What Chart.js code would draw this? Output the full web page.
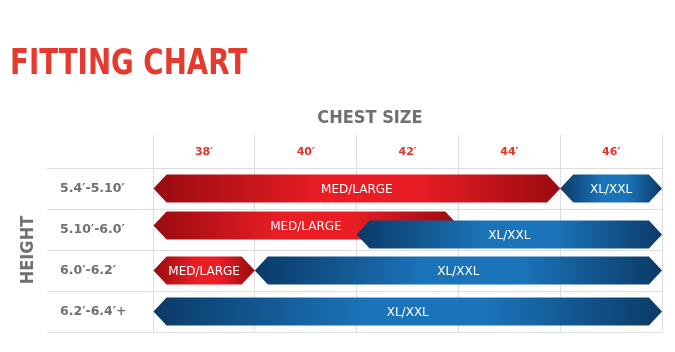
<!DOCTYPE html>
<html>
<head>
<meta charset="utf-8">
<script src="https://cdn.jsdelivr.net/npm/chart.js@4/dist/chart.umd.min.js"></script>
<style>
  html, body { margin: 0; padding: 0; background: #fff; }
</style>
</head>
<body>
<canvas id="fitChart" width="675" height="352"></canvas>
<script>
// Données du tableau de tailles
const heights = ['5.4′-5.10′', '5.10′-6.0′', '6.0′-6.2′', '6.2′-6.4′+'];
const chestSizes = ['38′', '40′', '42′', '44′', '46′'];
// plages en colonnes : 0 = bord gauche de 38′, 5 = bord droit de 46′
const medLarge = [[0, 4], [0, 3], [0, 1], null];
const xlXxl = [[4, 5], [2, 5], [1, 5], [0, 5]];

const GRAY = '#6f7072';
const GRID = '#dedede';

// Dessine chaque barre en forme de flèche double avec un dégradé
const arrowBars = {
    id: 'arrowBars',
    beforeDatasetDraw(chart, args, opts) {
        const ctx = chart.ctx;
        const ds = chart.data.datasets[args.index];
        const shift = opts.shift[args.index] || [];
        ctx.save();
        args.meta.data.forEach((bar, i) => {
            if (!ds.data[i]) return;
            const p = bar.getProps(['x', 'y', 'base', 'height'], true);
            const left = Math.min(p.x, p.base);
            const right = Math.max(p.x, p.base);
            const y = p.y + (shift[i] || 0);
            const h = p.height;
            const d = h * 0.47;

            const g = ctx.createLinearGradient(left, 0, right, 0);
            g.addColorStop(0, ds.darkColor);
            g.addColorStop(0.42, ds.lightColor);
            g.addColorStop(0.65, ds.lightColor);
            g.addColorStop(1, ds.darkColor);

            ctx.beginPath();
            ctx.moveTo(left, y);
            ctx.lineTo(left + d, y - h / 2);
            ctx.lineTo(right - d, y - h / 2);
            ctx.lineTo(right, y);
            ctx.lineTo(right - d, y + h / 2);
            ctx.lineTo(left + d, y + h / 2);
            ctx.closePath();
            ctx.fillStyle = g;
            ctx.fill();

            ctx.fillStyle = '#fff';
            ctx.font = '12px "DejaVu Sans"';
            ctx.textAlign = 'center';
            ctx.textBaseline = 'middle';
            ctx.fillText(ds.label, (left + right) / 2, y + 1);
        });
        ctx.restore();
        return false;
    }
};

// Titres (titre principal, axe horizontal, axe vertical)
const titles = {
    id: 'titles',
    afterDraw(chart) {
        const ctx = chart.ctx;
        ctx.save();

        ctx.fillStyle = '#e63a2f';
        ctx.font = 'bold 36px "DejaVu Sans Condensed", "DejaVu Sans"';
        ctx.textBaseline = 'alphabetic';
        ctx.textAlign = 'left';
        const w = ctx.measureText('FITTING CHART').width;
        ctx.translate(10, 74);
        ctx.scale(237 / w, 1);
        ctx.fillText('FITTING CHART', 0, 0);
        ctx.setTransform(1, 0, 0, 1, 0, 0);

        ctx.fillStyle = GRAY;
        ctx.font = 'bold 18px "DejaVu Sans Condensed", "DejaVu Sans"';
        ctx.textAlign = 'center';
        ctx.fillText('CHEST SIZE', 370, 123);

        const area = chart.chartArea;
        ctx.translate(33, (area.top + area.bottom) / 2);
        ctx.rotate(-Math.PI / 2);
        ctx.fillText('HEIGHT', 0, 0);
        ctx.restore();
    }
};

const ctx = document.getElementById('fitChart').getContext('2d');
new Chart(ctx, {
    type: 'bar',
    data: {
        labels: heights,
        datasets: [
            {
                label: 'MED/LARGE',
                data: medLarge,
                order: 2, // dessiné en dessous
                darkColor: '#980b10',
                lightColor: '#ea1d25'
            },
            {
                label: 'XL/XXL',
                data: xlXxl,
                order: 1,
                darkColor: '#0b3a68',
                lightColor: '#1b74ba'
            }
        ]
    },
    options: {
        responsive: false,
        animation: false,
        indexAxis: 'y',
        grouped: false,
        barPercentage: 0.68,
        categoryPercentage: 1,
        layout: { padding: { left: 60, top: 135, right: 13, bottom: 20 } },
        plugins: {
            legend: { display: false },
            tooltip: { enabled: false },
            arrowBars: { shift: [[0, -4, 0, 0], [0, 5, 0, 0]] }
        },
        scales: {
            x: {
                type: 'linear',
                position: 'top',
                min: 0,
                max: 5,
                ticks: {
                    stepSize: 1,
                    autoSkip: false,
                    maxRotation: 0,
                    labelOffset: 51,
                    padding: -24,
                    color: '#e4322c',
                    font: { family: 'DejaVu Sans', weight: 'bold', size: 11 },
                    callback: (v) => chestSizes[v] || ''
                },
                grid: { color: GRID, tickLength: 33 },
                border: { display: false },
                afterFit: (s) => { s.height = 33; }
            },
            y: {
                position: 'left',
                ticks: {
                    crossAlign: 'far',
                    padding: 0,
                    color: GRAY,
                    font: { family: 'DejaVu Sans', weight: 'bold', size: 12.5 }
                },
                grid: { color: GRID, tickLength: 106, offset: true },
                border: { display: false },
                afterFit: (s) => { s.width = 93; }
            }
        }
    },
    plugins: [arrowBars, titles]
});
</script>
</body>
</html>
